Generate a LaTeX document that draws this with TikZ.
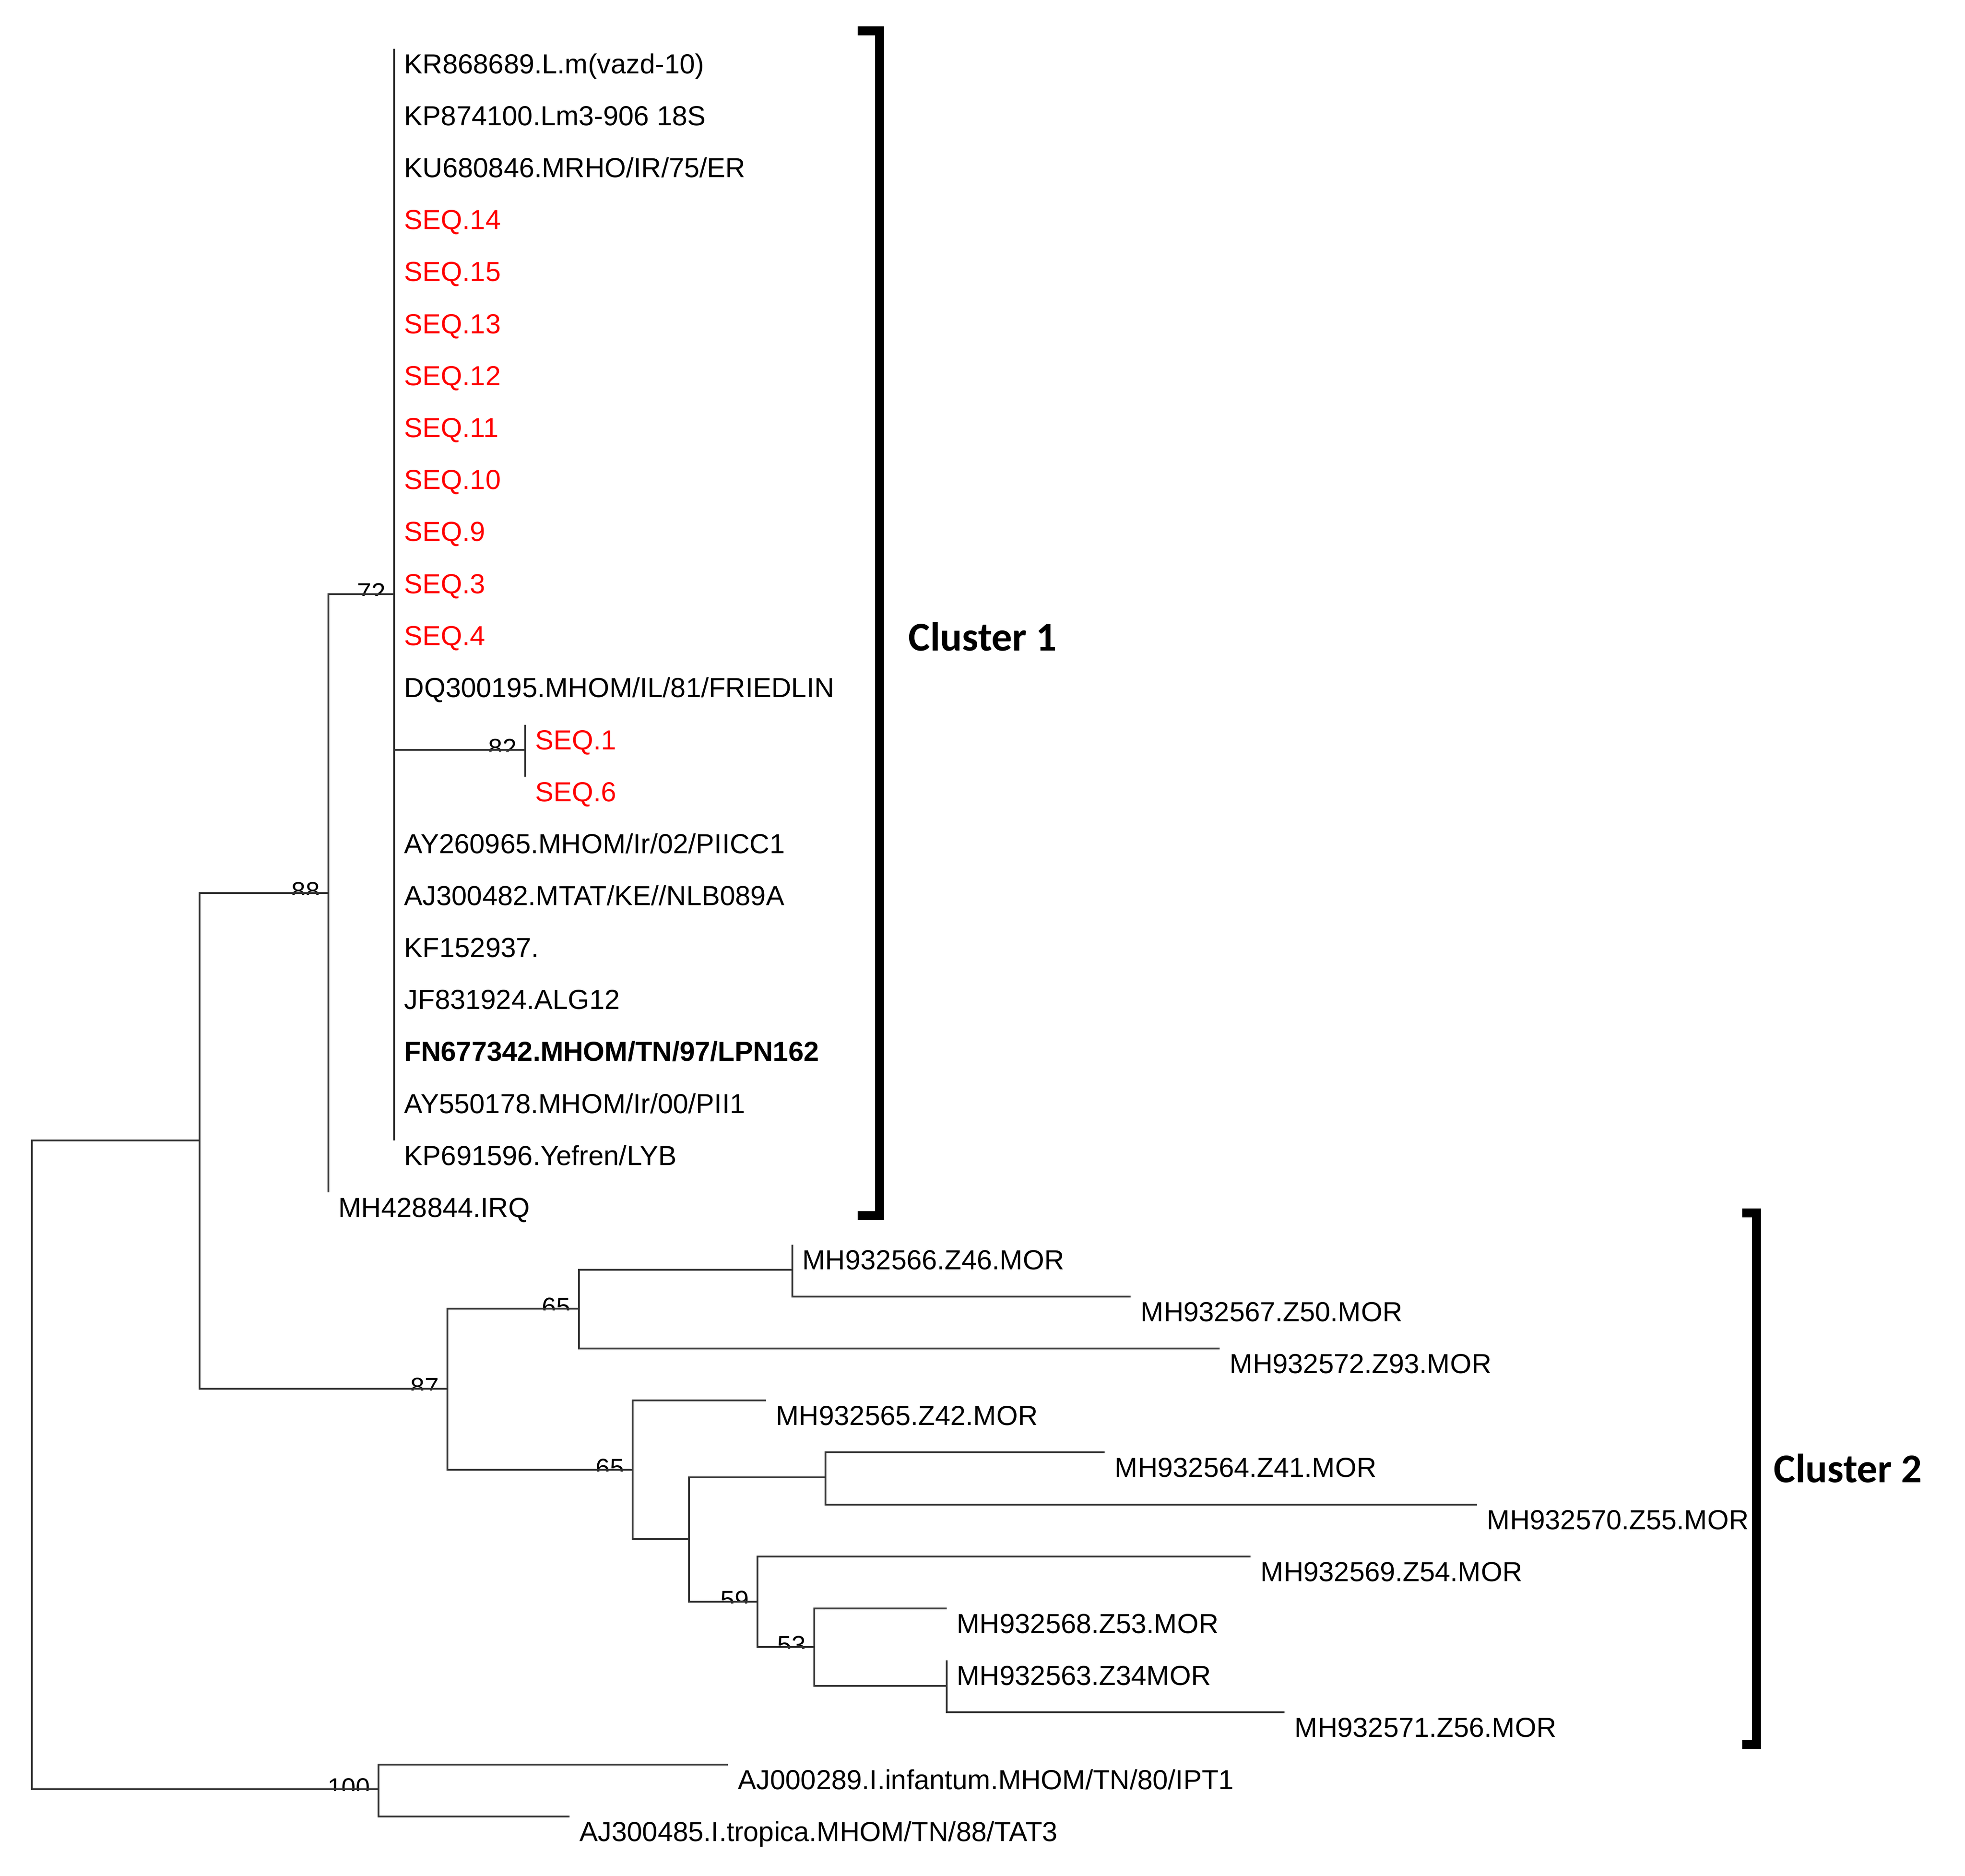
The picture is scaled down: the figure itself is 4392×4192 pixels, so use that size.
\documentclass[tikz,border=0pt]{standalone}
\usepackage{fontspec}
\setmainfont{Liberation Sans}
\newfontfamily\clusterfont{Carlito}
\begin{document}
\begin{tikzpicture}[
		x=0.01cm, y=-0.01cm,
		branch/.style={
			draw=black!80,
			line width=1.3pt
		},
		leaf/.style={
			anchor=base west,
			inner sep=0pt,
			xshift=0.22cm,
			yshift=-0.55cm,
			font=\fontsize{17.5}{21}\selectfont
		},
		boot/.style={
			anchor=base east,
			inner sep=0pt,
			xshift=-0.18cm,
			yshift=-0.15cm,
			font=\fontsize{16.2}{19}\selectfont
		},
		bracket/.style={
			draw=black,
			line width=5.7pt
		},
		cluster/.style={
			anchor=west,
			inner sep=0pt,
			font=\clusterfont\bfseries\fontsize{26}{30}\selectfont
		}
		]
		
		\fill[white] (0,0) rectangle (4392,4192);
		\useasboundingbox (0,0) rectangle (4392,4192);
		
		% inner nodes
		\coordinate (n0) at (71,3275);
		\coordinate (nA) at (446,2549);
		\coordinate (n88) at (734,1996);
		\coordinate (n72) at (881,1328);
		\coordinate (n82) at (1174,1676);
		\coordinate (n87) at (1000,3104);
		\coordinate (n65a) at (1294,2925);
		\coordinate (nZ46) at (1771,2838);
		\coordinate (n65b) at (1414,3285);
		\coordinate (nB) at (1540,3440);
		\coordinate (nZ41) at (1845,3302);
		\coordinate (n59) at (1693,3580);
		\coordinate (n53) at (1820,3681);
		\coordinate (nZ34) at (2116,3768);
		\coordinate (n100) at (846,3999);
		
		% bootstrap values
		\begin{scope}
			\clip (n72) ++(-160,-60) rectangle ++(160,63)
			(n82) ++(-160,-60) rectangle ++(160,63)
			(n88) ++(-160,-60) rectangle ++(160,63)
			(n87) ++(-160,-60) rectangle ++(160,63)
			(n65a) ++(-160,-60) rectangle ++(160,63)
			(n65b) ++(-160,-60) rectangle ++(160,63)
			(n59) ++(-160,-60) rectangle ++(160,63)
			(n53) ++(-160,-60) rectangle ++(160,63)
			(n100) ++(-160,-60) rectangle ++(160,63);
			\node[boot] (b72) at (n72) {72};
			\node[boot] (b82) at (n82) {82};
			\node[boot] (b88) at (n88) {88};
			\node[boot] (b87) at (n87) {87};
			\node[boot] (b65a) at (n65a) {65};
			\node[boot] (b65b) at (n65b) {65};
			\node[boot] (b59) at (n59) {59};
			\node[boot] (b53) at (n53) {53};
			\node[boot] (b100) at (n100) {100};
		\end{scope}
		
		% cluster 1
		\foreach \r/\col/\txt in {
			0/black/{KR868689.L.m(vazd-10)},
			1/black/{KP874100.Lm3-906 18S},
			2/black/{KU680846.MRHO/IR/75/ER},
			3/red/{SEQ.14},
			4/red/{SEQ.15},
			5/red/{SEQ.13},
			6/red/{SEQ.12},
			7/red/{SEQ.11},
			8/red/{SEQ.10},
			9/red/{SEQ.9},
			10/red/{SEQ.3},
			11/red/{SEQ.4},
			12/black/{DQ300195.MHOM/IL/81/FRIEDLIN},
			15/black/{AY260965.MHOM/Ir/02/PIICC1},
			16/black/{AJ300482.MTAT/KE//NLB089A},
			17/black/{KF152937.},
			18/black/{JF831924.ALG12},
			19/black/{\textbf{FN677342.MHOM/TN/97/LPN162}},
			20/black/{AY550178.MHOM/Ir/00/PII1},
			21/black/{KP691596.Yefren/LYB}}{
			\coordinate (t\r) at (881,{109+116.2*\r});
			\node[leaf, text=\col] (l\r) at (t\r) {\txt};
			\draw[branch] (n72) |- (t\r);
		}
		
		\coordinate (t13) at (1174,1620);
		\coordinate (t14) at (1174,1736);
		\node[leaf, text=red] (l13) at (t13) {SEQ.1};
		\node[leaf, text=red] (l14) at (t14) {SEQ.6};
		
		\coordinate (tirq) at (734,2665);
		\node[leaf] (irq) at (tirq) {MH428844.IRQ};
		
		% cluster 2
		\coordinate (tz46) at (1771,2782);
		\coordinate (tz50) at (2527,2898);
		\coordinate (tz93) at (2726,3014);
		\coordinate (tz42) at (1712,3130);
		\coordinate (tz41) at (2469,3246);
		\coordinate (tz55) at (3301,3363);
		\coordinate (tz54) at (2795,3479);
		\coordinate (tz53) at (2116,3595);
		\coordinate (tz34) at (2116,3711);
		\coordinate (tz56) at (2871,3827);
		\node[leaf] (z46) at (tz46) {MH932566.Z46.MOR};
		\node[leaf] (z50) at (tz50) {MH932567.Z50.MOR};
		\node[leaf] (z93) at (tz93) {MH932572.Z93.MOR};
		\node[leaf] (z42) at (tz42) {MH932565.Z42.MOR};
		\node[leaf] (z41) at (tz41) {MH932564.Z41.MOR};
		\node[leaf] (z55) at (tz55) {MH932570.Z55.MOR};
		\node[leaf] (z54) at (tz54) {MH932569.Z54.MOR};
		\node[leaf] (z53) at (tz53) {MH932568.Z53.MOR};
		\node[leaf] (z34) at (tz34) {MH932563.Z34MOR};
		\node[leaf] (z56) at (tz56) {MH932571.Z56.MOR};
		
		% outgroup
		\coordinate (tinf) at (1627,3944);
		\coordinate (ttrop) at (1273,4060);
		\node[leaf] (inf) at (tinf) {AJ000289.I.infantum.MHOM/TN/80/IPT1};
		\node[leaf] (trop) at (ttrop) {AJ300485.I.tropica.MHOM/TN/88/TAT3};
		
		% branches
		\draw[branch] (n0) |- (nA);
		\draw[branch] (n0) |- (n100);
		\draw[branch] (nA) |- (n88);
		\draw[branch] (nA) |- (n87);
		\draw[branch] (n88) |- (n72);
		\draw[branch] (n88) |- (tirq);
		\draw[branch] (n72) |- (n82);
		\draw[branch] (n82) |- (t13);
		\draw[branch] (n82) |- (t14);
		
		\draw[branch] (n87) |- (n65a);
		\draw[branch] (n87) |- (n65b);
		\draw[branch] (n65a) |- (nZ46);
		\draw[branch] (n65a) |- (tz93);
		\draw[branch] (nZ46) |- (tz46);
		\draw[branch] (nZ46) |- (tz50);
		\draw[branch] (n65b) |- (tz42);
		\draw[branch] (n65b) |- (nB);
		\draw[branch] (nB) |- (nZ41);
		\draw[branch] (nB) |- (n59);
		\draw[branch] (nZ41) |- (tz41);
		\draw[branch] (nZ41) |- (tz55);
		\draw[branch] (n59) |- (tz54);
		\draw[branch] (n59) |- (n53);
		\draw[branch] (n53) |- (tz53);
		\draw[branch] (n53) |- (nZ34);
		\draw[branch] (nZ34) |- (tz34);
		\draw[branch] (nZ34) |- (tz56);
		
		\draw[branch] (n100) |- (tinf);
		\draw[branch] (n100) |- (ttrop);
		
		% brackets
		\coordinate (c1top) at (1966,69);
		\coordinate (c1bot) at (1966,2717);
		\coordinate (c2top) at (3926,2711);
		\coordinate (c2bot) at (3926,3899);
		\draw[bracket] (c1top) ++(-49,0) -- (c1top) -- (c1bot) -- ++(-49,0);
		\draw[bracket] (c2top) ++(-32,0) -- (c2top) -- (c2bot) -- ++(-32,0);
		\node[cluster] (cl1) at (2030,1423) {Cluster 1};
		\node[cluster] (cl2) at (3964,3282) {Cluster 2};
		
	\end{tikzpicture}
\end{document}
